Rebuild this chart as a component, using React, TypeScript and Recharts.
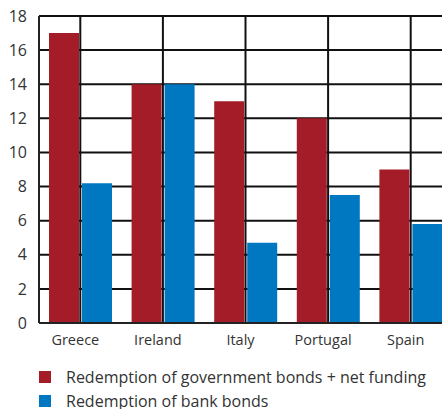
import React from 'react';
import { BarChart, Bar, XAxis, YAxis, CartesianGrid } from 'recharts';

const countries = ['Greece', 'Ireland', 'Italy', 'Portugal', 'Spain'];
const governmentBonds = [17, 14, 13, 12, 9];
const bankBonds = [8.2, 14, 4.7, 7.5, 5.8];
const yTicks = [0, 2, 4, 6, 8, 10, 12, 14, 16, 18];

const series = [
  { key: 'gov', name: 'Redemption of government bonds + net funding', color: '#a31c28' },
  { key: 'bank', name: 'Redemption of bank bonds', color: '#0077c1' }
];

const data = countries.map((country, i) => ({
  country,
  gov: governmentBonds[i],
  bank: bankBonds[i]
}));

const font = '"Open Sans", sans-serif';
const textColor = '#333333';

export default function App() {
  return (
    <div style={{ position: 'absolute', left: 0, top: 0, width: 442, height: 409, overflow: 'hidden', background: '#fff', fontFamily: font }}>
      <BarChart
        width={460}
        height={350}
        data={data}
        margin={{ top: 16, right: 8, left: 0, bottom: 0 }}
        barCategoryGap={10}
        barGap={3}
      >
        <CartesianGrid stroke="#111" strokeOpacity={1} strokeWidth={2} vertical horizontal />
        <XAxis
          dataKey="country"
          height={27}
          axisLine={{ stroke: '#222', strokeWidth: 2 }}
          tickLine={false}
          tick={{ fill: textColor, fontSize: 14.5, fontFamily: font, dx: -5 }}
          interval={0}
          tickMargin={6}
        />
        <YAxis
          width={39}
          domain={[0, 18]}
          ticks={yTicks}
          interval={0}
          axisLine={{ stroke: '#222', strokeWidth: 2 }}
          tickLine={false}
          tick={{ fill: textColor, fontSize: 16, fontFamily: font }}
          tickMargin={6}
        />
        {series.map(s => (
          <Bar key={s.key} dataKey={s.key} name={s.name} fill={s.color} barSize={30} isAnimationActive={false} />
        ))}
      </BarChart>
      <div style={{ position: 'absolute', left: 39, top: 365 }}>
        {series.map(s => (
          <div key={s.key} style={{ display: 'flex', alignItems: 'center', height: 24, color: textColor, fontSize: 16, lineHeight: '17px', whiteSpace: 'nowrap' }}>
            <span style={{ width: 12, height: 12, background: s.color, display: 'inline-block', marginRight: 15 }} />
            <span>{s.name}</span>
          </div>
        ))}
      </div>
    </div>
  );
}
